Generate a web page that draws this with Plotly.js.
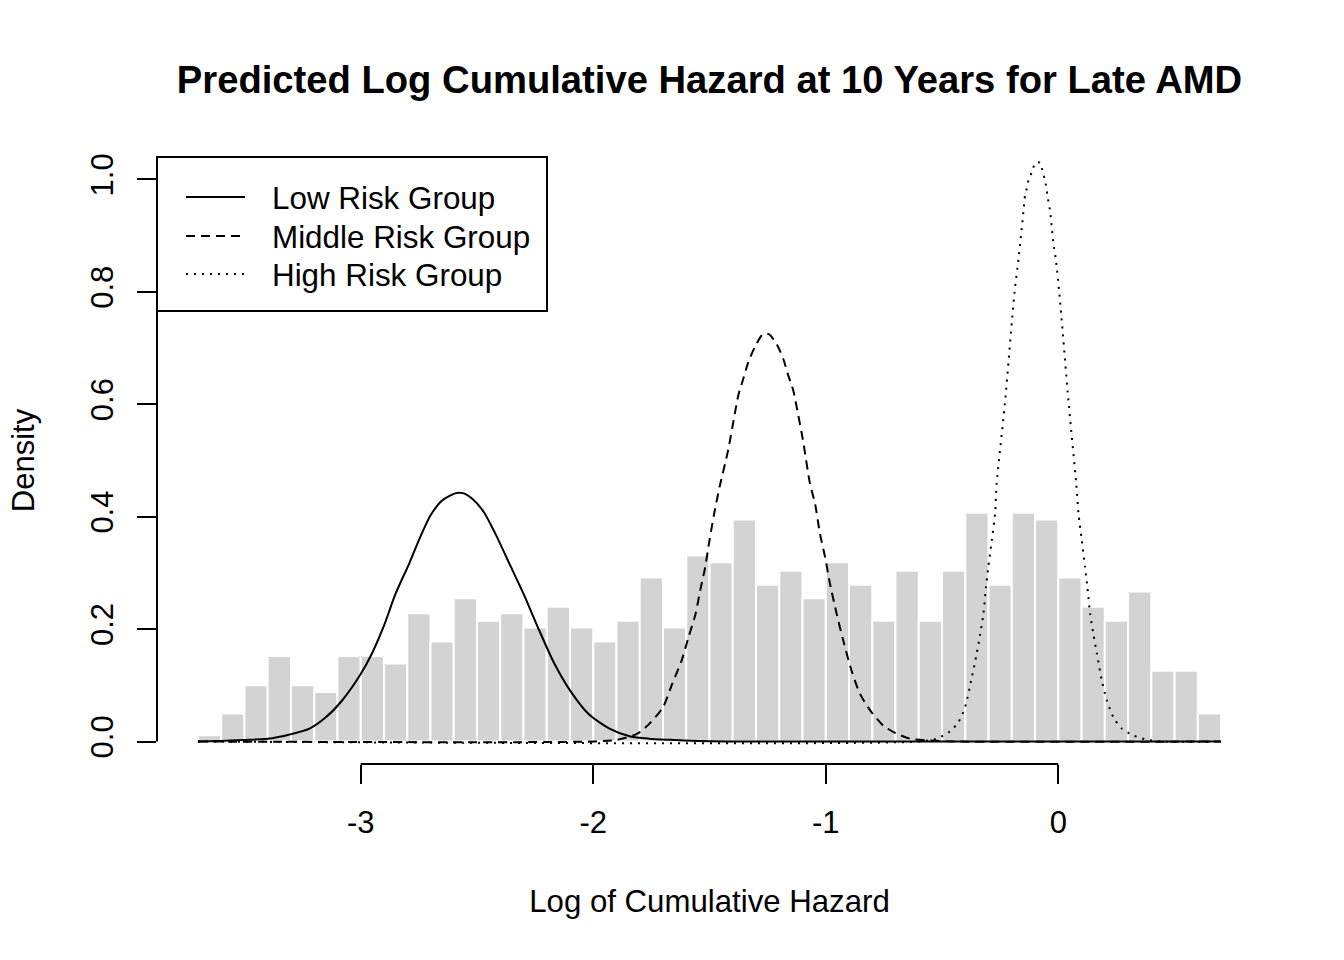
<!DOCTYPE html>
<html>
<head>
<meta charset="utf-8">
<script src="https://cdn.plot.ly/plotly-3.0.1.min.js"></script>
<style>
  html, body { margin: 0; padding: 0; background: #ffffff; }
  #chart { width: 1344px; height: 960px; }
</style>
</head>
<body>
<div id="chart"></div>
<script>
// Histogram bins (centres of 0.1-wide bins) and densities
var binCenters = [-3.65, -3.55, -3.45, -3.35, -3.25, -3.15, -3.05, -2.95, -2.85, -2.75,
                  -2.65, -2.55, -2.45, -2.35, -2.25, -2.15, -2.05, -1.95, -1.85, -1.75,
                  -1.65, -1.55, -1.45, -1.35, -1.25, -1.15, -1.05, -0.95, -0.85, -0.75,
                  -0.65, -0.55, -0.45, -0.35, -0.25, -0.15, -0.05, 0.05, 0.15, 0.25,
                  0.35, 0.45, 0.55, 0.65];
var binDensity = [0.011, 0.050, 0.100, 0.152, 0.100, 0.088, 0.152, 0.152, 0.139, 0.228,
                  0.178, 0.255, 0.215, 0.228, 0.203, 0.240, 0.203, 0.178, 0.215, 0.292,
                  0.203, 0.331, 0.319, 0.395, 0.279, 0.304, 0.255, 0.319, 0.279, 0.215,
                  0.304, 0.215, 0.304, 0.407, 0.279, 0.407, 0.395, 0.292, 0.240, 0.215,
                  0.267, 0.126, 0.126, 0.050];

// Low risk group density curve
var lowX = [-3.70, -3.60, -3.48, -3.38, -3.31, -3.22, -3.15, -3.08, -3.00, -2.95, -2.90, -2.85,
            -2.79, -2.75, -2.70, -2.65, -2.59, -2.56, -2.52, -2.47, -2.42, -2.36, -2.30, -2.24,
            -2.17, -2.10, -2.02, -1.93, -1.84, -1.76, -1.67, -1.55, -1.40, 0.70];
var lowY = [0.000, 0.001, 0.003, 0.006, 0.012, 0.023, 0.043, 0.073, 0.120, 0.158, 0.206, 0.263,
            0.318, 0.358, 0.402, 0.429, 0.442, 0.442, 0.432, 0.408, 0.369, 0.316, 0.263, 0.205,
            0.141, 0.091, 0.049, 0.023, 0.009, 0.005, 0.003, 0.001, 0.000, 0.000];

// Middle risk group density curve
var midX = [-3.70, -2.00, -1.90, -1.81, -1.76, -1.70, -1.66, -1.62, -1.59, -1.56, -1.54, -1.52,
            -1.50, -1.48, -1.455, -1.42, -1.39, -1.376, -1.355, -1.333, -1.305, -1.27, -1.245,
            -1.211, -1.183, -1.161, -1.140, -1.125, -1.098, -1.068, -1.046, -1.025, -1.003,
            -0.982, -0.953, -0.925, -0.889, -0.853, -0.803, -0.752, -0.70, -0.637, -0.566,
            -0.45, 0.70];
var midY = [0.000, 0.000, 0.003, 0.014, 0.031, 0.061, 0.103, 0.144, 0.186, 0.227, 0.269, 0.307,
            0.358, 0.405, 0.456, 0.518, 0.586, 0.616, 0.645, 0.675, 0.702, 0.725, 0.725,
            0.707, 0.681, 0.651, 0.625, 0.595, 0.536, 0.459, 0.423, 0.370, 0.328,
            0.281, 0.227, 0.180, 0.126, 0.085, 0.052, 0.028, 0.015, 0.005, 0.002,
            0.000, 0.000];

// High risk group density curve
var highX = [-3.70, -0.60, -0.523, -0.466, -0.430, -0.401, -0.372, -0.351, -0.336, -0.322,
             -0.311, -0.301, -0.286, -0.272, -0.265, -0.230, -0.188, -0.171, -0.164, -0.157,
             -0.150, -0.143, -0.135, -0.128, -0.114, -0.098, -0.078, -0.067, -0.057, -0.047,
             -0.035, -0.028, -0.021, -0.011, 0.004, 0.045, 0.077, 0.087, 0.101, 0.115,
             0.125, 0.137, 0.151, 0.166, 0.187, 0.209, 0.237, 0.273, 0.323, 0.381, 0.45, 0.70];
var highY = [0.000, 0.000, 0.005, 0.018, 0.034, 0.061, 0.114, 0.156, 0.191, 0.227,
             0.275, 0.310, 0.358, 0.405, 0.459, 0.600, 0.800, 0.859, 0.886, 0.914,
             0.943, 0.972, 0.985, 0.999, 1.013, 1.030, 1.030, 1.013, 0.999, 0.972,
             0.943, 0.914, 0.886, 0.859, 0.800, 0.600, 0.459, 0.405, 0.358, 0.310,
             0.275, 0.227, 0.191, 0.156, 0.109, 0.073, 0.043, 0.023, 0.011, 0.003, 0.000, 0.000];

var seriesNames = ['Low Risk Group', 'Middle Risk Group', 'High Risk Group'];
var xTickVals = [-3, -2, -1, 0];
var xTickText = ['-3', '-2', '-1', '0'];
var yTickVals = [0, 0.2, 0.4, 0.6, 0.8, 1.0];
var yTickText = ['0.0', '0.2', '0.4', '0.6', '0.8', '1.0'];

var FONT = 'Liberation Sans, Arial, Helvetica, sans-serif';
var PAD = '\u2002\u2009';   // gap between key line and label, as in the original legend

var traces = [
  {
    type: 'bar', x: binCenters, y: binDensity, width: 0.1,
    marker: { color: '#d3d3d3', line: { color: '#ffffff', width: 2 } },
    showlegend: false, hoverinfo: 'skip'
  },
  {
    type: 'scatter', mode: 'lines', x: lowX, y: lowY, name: PAD + seriesNames[0],
    legend: 'legend',
    line: { color: '#000000', width: 2, dash: 'solid', shape: 'spline', smoothing: 0.7 }
  },
  {
    type: 'scatter', mode: 'lines', x: midX, y: midY, name: PAD + seriesNames[1],
    legend: 'legend2',
    line: { color: '#000000', width: 2, dash: '9px,6px', shape: 'spline', smoothing: 0.7 }
  },
  {
    type: 'scatter', mode: 'lines', x: highX, y: highY, name: PAD + seriesNames[2],
    legend: 'legend3',
    line: { color: '#000000', width: 2, dash: '2px,6px', shape: 'spline', smoothing: 0.7 }
  }
];

function legendAt(topPx) {
  return {
    x: (181 - 157) / 1105, y: (764 - topPx) / 607, xref: 'paper', yref: 'paper',
    xanchor: 'left', yanchor: 'top',
    bgcolor: 'rgba(0,0,0,0)', borderwidth: 0,
    font: { family: FONT, size: 31.4, color: '#000000' },
    itemwidth: 59
  };
}

var layout = {
  width: 1344, height: 960,
  margin: { l: 157, r: 82, t: 157, b: 196, pad: 0 },
  paper_bgcolor: '#ffffff', plot_bgcolor: '#ffffff',
  font: { family: FONT, size: 31, color: '#000000' },
  bargap: 0,
  title: {
    text: '<b>Predicted Log Cumulative Hazard at 10 Years for Late AMD</b>',
    font: { family: FONT, size: 38.2, color: '#000000' },
    x: 0.5, xref: 'paper', xanchor: 'center',
    y: 1 - 80 / 960, yref: 'container', yanchor: 'middle'
  },
  xaxis: {
    range: [-3.876, 0.876],
    tickmode: 'array', tickvals: xTickVals, ticktext: xTickText,
    ticks: 'outside', ticklen: 19, tickwidth: 2, tickcolor: '#000000',
    showline: false, zeroline: false, showgrid: false,
    tickfont: { family: FONT, size: 31, color: '#000000' },
    ticklabelstandoff: 12,
    title: { text: 'Log of Cumulative Hazard', font: { family: FONT, size: 31.2, color: '#000000' }, standoff: 50 }
  },
  yaxis: {
    range: [-0.04, 1.04],
    tickmode: 'array', tickvals: yTickVals, ticktext: yTickText,
    ticks: 'outside', ticklen: 19, tickwidth: 2, tickcolor: '#000000',
    tickangle: -90,
    showline: false, zeroline: false, showgrid: false,
    tickfont: { family: FONT, size: 31, color: '#000000' },
    ticklabelstandoff: 12,
    title: { text: 'Density', font: { family: FONT, size: 31, color: '#000000' }, standoff: 40 }
  },
  legend: legendAt(170),
  legend2: legendAt(209),
  legend3: legendAt(247),
  shapes: [
    { type: 'line', xref: 'x', yref: 'paper', x0: -3, x1: 0, y0: 0, y1: 0,
      line: { color: '#000000', width: 2 } },
    { type: 'line', xref: 'paper', yref: 'y', x0: 0, x1: 0, y0: 0, y1: 1,
      line: { color: '#000000', width: 2 } },
    { type: 'rect', xref: 'paper', yref: 'paper',
      x0: 0, x1: (547 - 157) / 1105, y0: (764 - 311) / 607, y1: 1,
      line: { color: '#000000', width: 2 }, fillcolor: 'rgba(0,0,0,0)' }
  ],
  showlegend: true,
  hovermode: false
};

Plotly.newPlot('chart', traces, layout, { staticPlot: true, displayModeBar: false });
</script>
</body>
</html>
